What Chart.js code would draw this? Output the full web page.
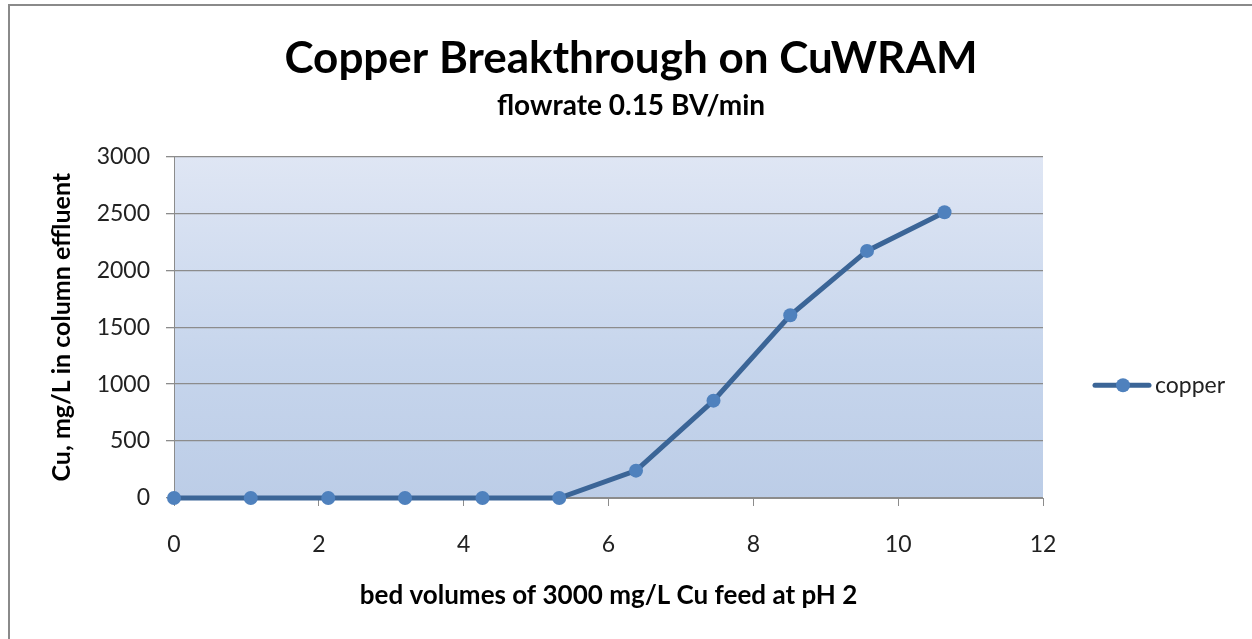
<!DOCTYPE html>
<html>
<head>
<meta charset="utf-8">
<script src="https://cdn.jsdelivr.net/npm/chart.js@4.4.1/dist/chart.umd.min.js"></script>
<style>
  html, body { margin: 0; padding: 0; background: #fff; }
  #wrap { position: relative; width: 1252px; height: 639px; overflow: hidden; }
  #frame { position: absolute; left: 8px; top: 4px; width: 1260px; height: 700px;
           border-left: 2px solid #8a8a8a; border-top: 2px solid #8a8a8a; pointer-events: none; }
  canvas { display: block; }
</style>
</head>
<body>
<div id="wrap">
  <canvas id="cuChart" width="1252" height="639"></canvas>
  <div id="frame"></div>
</div>
<script>
// ===== data =====
const bedVolumes = [0, 1.06, 2.13, 3.19, 4.26, 5.32, 6.38, 7.45, 8.51, 9.57, 10.64];
const copperMgL  = [0, 0, 0, 0, 0, 0, 240, 855, 1605, 2170, 2510];
const seriesName = 'copper';
const chartTitle = 'Copper Breakthrough on CuWRAM';
const chartSubtitle = 'flowrate 0.15 BV/min';
const xTitle = 'bed volumes of 3000 mg/L Cu feed at pH 2';
const yTitle = 'Cu, mg/L in column effluent';

const FONT = 'Lato, "Open Sans", sans-serif';
const gridGray = '#8c8c8c';
const lineBlue = '#3b6597';
const dotBlue = '#4f81bd';

// gradient fill behind the plot area
const plotBg = {
  id: 'plotBg',
  beforeDraw(chart) {
    const { ctx, chartArea: a } = chart;
    const g = ctx.createLinearGradient(0, a.top, 0, a.bottom);
    g.addColorStop(0, '#dfe6f4');
    g.addColorStop(0.6, '#c6d5ec');
    g.addColorStop(1, '#bccde7');
    ctx.save();
    ctx.fillStyle = g;
    ctx.fillRect(a.left, a.top, a.right - a.left, a.bottom - a.top);
    ctx.restore();
  }
};

// Excel-like legend: short line with a dot, then the name
const lineLegend = {
  id: 'lineLegend',
  afterDraw(chart) {
    const { ctx, chartArea: a } = chart;
    const ds = chart.data.datasets[0];
    const x0 = a.right + 52, y = (a.top + a.bottom) / 2 + 58;
    ctx.save();
    ctx.strokeStyle = ds.borderColor;
    ctx.lineWidth = ds.borderWidth;
    ctx.lineCap = 'round';
    ctx.beginPath();
    ctx.moveTo(x0, y);
    ctx.lineTo(x0 + 54, y);
    ctx.stroke();
    ctx.fillStyle = ds.pointBackgroundColor;
    ctx.beginPath();
    ctx.arc(x0 + 28, y, ds.pointRadius, 0, Math.PI * 2);
    ctx.fill();
    ctx.fillStyle = '#222';
    ctx.font = '23px ' + FONT;
    ctx.textBaseline = 'middle';
    ctx.fillText(ds.label, x0 + 60, y);
    ctx.restore();
  }
};

new Chart(document.getElementById('cuChart'), {
  type: 'line',
  data: {
    datasets: [{
      label: seriesName,
      data: bedVolumes.map((x, i) => ({ x, y: copperMgL[i] })),
      borderColor: lineBlue,
      borderWidth: 5,
      pointBackgroundColor: dotBlue,
      pointBorderColor: dotBlue,
      pointBorderWidth: 0,
      pointRadius: 7,
      tension: 0,
      clip: false
    }]
  },
  options: {
    responsive: false,
    animation: false,
    layout: { padding: { left: 10, right: 0, top: 0, bottom: 0 } },
    plugins: {
      legend: { display: false },
      tooltip: { enabled: false },
      title: {
        display: true, text: chartTitle, color: '#000',
        font: { family: FONT, size: 44, weight: 'bold' },
        padding: { top: 32, bottom: 4 }
      },
      subtitle: {
        display: true, text: chartSubtitle, color: '#000',
        font: { family: FONT, size: 28, weight: 'bold' },
        padding: { top: 0, bottom: 34 }
      }
    },
    scales: {
      x: {
        type: 'linear', min: 0, max: 12,
        ticks: { stepSize: 2, color: '#222', padding: 25, font: { family: FONT, size: 23 } },
        grid: { drawOnChartArea: false, drawTicks: true, tickLength: 8, color: gridGray },
        border: { display: true, color: gridGray },
        title: {
          display: true, text: xTitle, color: '#000',
          font: { family: FONT, size: 26, weight: 'bold' },
          padding: { top: 0, bottom: 28 }
        },
        afterFit(s) { s.height = 141; }
      },
      y: {
        min: 0, max: 3000,
        ticks: { stepSize: 500, color: '#222', padding: 16, format: { useGrouping: false },
                 font: { family: FONT, size: 23 } },
        grid: { color: gridGray, lineWidth: 1.3, tickLength: 8 },
        border: { display: true, color: gridGray },
        title: {
          display: true, text: yTitle, color: '#000',
          font: { family: FONT, size: 25, weight: 'bold' },
          padding: { top: 37, bottom: 0 }
        },
        afterFit(s) { s.width = 164; }
      },
      // empty right-hand slot that holds the legend
      legendSlot: {
        position: 'right', display: true,
        ticks: { display: false },
        grid: { display: false },
        border: { display: false },
        afterFit(s) { s.width = 209; }
      }
    }
  },
  plugins: [plotBg, lineLegend]
});
</script>
</body>
</html>
